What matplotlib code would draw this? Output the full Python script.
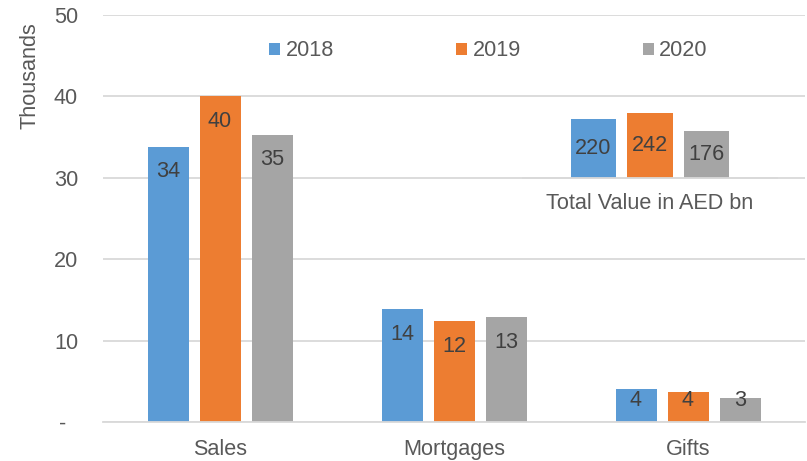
import matplotlib
matplotlib.use("Agg")
import matplotlib.pyplot as plt
import numpy as np

plt.rcParams['font.family'] = ['Liberation Sans', 'DejaVu Sans']

# Transactions (thousands) by type and year
categories = ['Sales', 'Mortgages', 'Gifts']
years = ['2018', '2019', '2020']
counts = {
    '2018': [33.8, 13.9, 4.1],
    '2019': [40.0, 12.4, 3.7],
    '2020': [35.3, 12.9, 3.0],
}
count_labels = {
    '2018': ['34', '14', '4'],
    '2019': ['40', '12', '4'],
    '2020': ['35', '13', '3'],
}

# Total value per year (AED bn)
totals = [220, 242, 176]
total_caption = 'Total Value in AED bn'

yticks = [0, 10, 20, 30, 40, 50]
ytick_labels = ['-  ', '10', '20', '30', '40', '50']

colors = ['#5B9BD5', '#ED7D31', '#A5A5A5']
grid_col = '#D9D9D9'
text_col = '#595959'
label_col = '#404040'
FS = 15.6

W, H = 807, 461
fig = plt.figure(figsize=(W / 100, H / 100), dpi=100)

def px_axes(left, top, right, bottom):
    return fig.add_axes([left / W, 1 - bottom / H, (right - left) / W, (bottom - top) / H])

ax = px_axes(103, 15, 805, 422.3)

x = np.arange(len(categories))
bw = 41 / 234
step = 52 / 234
for i, yr in enumerate(years):
    vals = counts[yr]
    pos = x + (i - 1) * step
    ax.bar(pos, vals, width=bw, color=colors[i], label=yr, zorder=2)
    for p, v, lab in zip(pos, vals, count_labels[yr]):
        ly = max(v - 3.07, 2.7)
        ax.text(p, ly, lab, ha='center', va='center', fontsize=FS,
                color=label_col, zorder=3)

ax.set_xlim(-0.5, 2.5)
ax.set_ylim(0, 50)
ax.set_yticks(yticks)
ax.set_yticklabels(ytick_labels)
ax.set_xticks(x)
ax.set_xticklabels(categories)
ax.tick_params(axis='both', length=0, labelsize=FS, labelcolor=text_col)
ax.tick_params(axis='y', pad=18)
ax.tick_params(axis='x', pad=12)
ax.yaxis.grid(True, color=grid_col, linewidth=1.3, zorder=0)
ax.set_axisbelow(True)
for s in ['top', 'right', 'left']:
    ax.spines[s].set_visible(False)
ax.spines['bottom'].set_color(grid_col)
ax.spines['bottom'].set_linewidth(1.3)

fig.text(29.5 / W, 1 - 75.5 / H, 'Thousands', rotation=90, ha='center',
         va='center', fontsize=FS, color=text_col)

leg = ax.legend(loc='center', bbox_to_anchor=(488.5 / W, 1 - 51 / H),
                bbox_transform=fig.transFigure, ncol=3, frameon=False,
                fontsize=FS, handlelength=0.5, handleheight=0.5,
                handletextpad=0.25, columnspacing=5.65, borderpad=0)
for t in leg.get_texts():
    t.set_color(text_col)

# Inset: total value bars
ax2 = px_axes(523, 100.3, 777, 177.7)
ax2.patch.set_alpha(0)
xi = np.arange(len(totals))
ax2.bar(xi, totals, width=0.8, color=colors)
for p, v in zip(xi, totals):
    ax2.text(p, v / 2, str(v), ha='center', va='center', fontsize=FS, color=label_col)
ax2.set_xlim(-1.25, 3.25)
ax2.set_ylim(0, 290)
ax2.set_xticks([])
ax2.set_yticks([])
for s in ['top', 'right', 'left']:
    ax2.spines[s].set_visible(False)
ax2.spines['bottom'].set_color(grid_col)
ax2.spines['bottom'].set_linewidth(1.3)
ax2.annotate(total_caption, xy=(0.5, 0), xycoords='axes fraction',
             xytext=(0, -18.5), textcoords='offset points', ha='center',
             va='center', fontsize=FS, color=text_col)

fig.savefig('out.png', dpi=100)
